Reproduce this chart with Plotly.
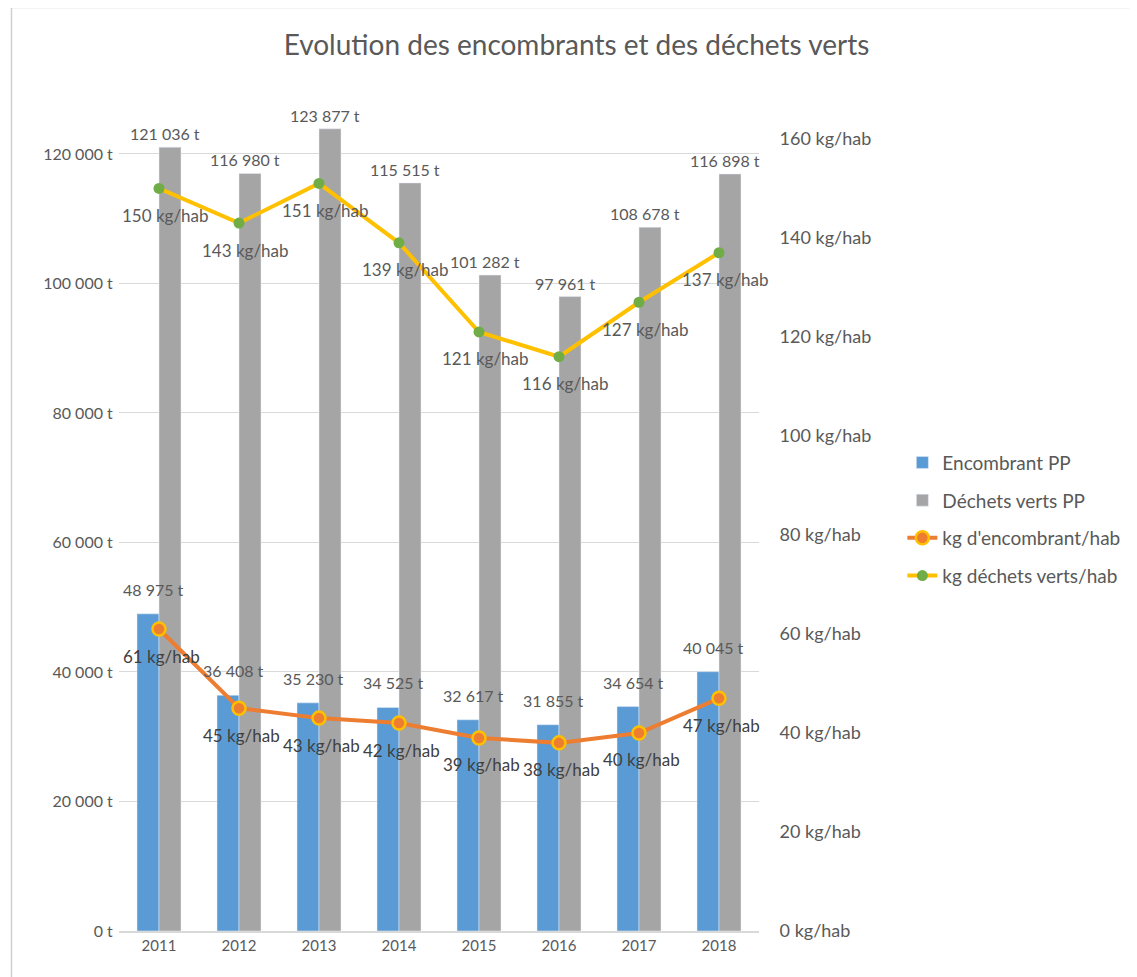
import plotly.graph_objects as go

years = ["2011", "2012", "2013", "2014", "2015", "2016", "2017", "2018"]
encombrant_t = [48975, 36408, 35230, 34525, 32617, 31855, 34654, 40045]
dechets_verts_t = [121036, 116980, 123877, 115515, 101282, 97961, 108678, 116898]
encombrant_kg = [61, 45, 43, 42, 39, 38, 40, 47]
dechets_verts_kg = [150, 143, 151, 139, 121, 116, 127, 137]

left_ticks = [0, 20000, 40000, 60000, 80000, 100000, 120000]
right_ticks = [0, 20, 40, 60, 80, 100, 120, 140, 160]

FONT = "Lato, 'Open Sans', sans-serif"
GREY_TXT = "#595959"


def tonnes(v):
    return f"{v:,}".replace(",", " ") + " t"


def kg(v):
    return f"{v} kg/hab"


fig = go.Figure()

fig.add_trace(go.Bar(
    x=years, y=encombrant_t, name="Encombrant PP", marker_color="#5B9BD5",
    legendgroup="a",
))
fig.add_trace(go.Bar(
    x=years, y=dechets_verts_t, name="Déchets verts PP", marker_color="#A5A5A5",
    legendgroup="b",
))
fig.add_trace(go.Scatter(
    x=years, y=encombrant_kg, name="kg d'encombrant/hab", yaxis="y2",
    mode="lines+markers", line=dict(color="#ED7D31", width=4),
    marker=dict(size=13, color="#ED7D31", line=dict(color="#FFC000", width=2.5)),
    legendgroup="c",
))
fig.add_trace(go.Scatter(
    x=years, y=dechets_verts_kg, name="kg déchets verts/hab", yaxis="y2",
    mode="lines+markers", line=dict(color="#FFC000", width=4),
    marker=dict(size=11, color="#70AD47"),
    legendgroup="d",
))

# data labels as annotations (x given as category index) so they sit on top of every mark
for i, v in enumerate(encombrant_t):
    fig.add_annotation(x=i, y=v, text=tonnes(v), showarrow=False, xshift=-6,
                       yanchor="bottom", yshift=13,
                       font=dict(color=GREY_TXT, size=16))
for i, v in enumerate(dechets_verts_t):
    fig.add_annotation(x=i, y=v, text=tonnes(v), showarrow=False, xshift=6,
                       yanchor="bottom", yshift=2,
                       font=dict(color=GREY_TXT, size=16))
for i, v in enumerate(encombrant_kg):
    fig.add_annotation(x=i, y=v, yref="y2", text=kg(v), showarrow=False, xshift=2,
                       yanchor="middle", yshift=-27,
                       font=dict(color="#404040", size=17))
for i, v in enumerate(dechets_verts_kg):
    fig.add_annotation(x=i, y=v, yref="y2", text=kg(v), showarrow=False, xshift=6,
                       yanchor="middle", yshift=-27,
                       font=dict(color=GREY_TXT, size=17))

fig.update_layout(
    width=1137, height=977,
    paper_bgcolor="white", plot_bgcolor="white",
    font=dict(family=FONT, color=GREY_TXT, size=16),
    title=dict(text="Evolution des encombrants et des déchets verts",
               x=0.5, xanchor="center", y=0.962, yanchor="middle",
               font=dict(size=28, color=GREY_TXT)),
    margin=dict(l=111, r=386, t=120, b=54),
    barmode="group", bargap=0.45, bargroupgap=0,
    xaxis=dict(type="category", range=[-0.5, len(years) - 0.5],
               showline=True, linecolor="#D9D9D9", linewidth=1.5,
               ticks="", tickfont=dict(size=15, color=GREY_TXT)),
    yaxis=dict(range=[0, 124000], tickvals=left_ticks,
               ticktext=[tonnes(v) for v in left_ticks],
               tickfont=dict(size=16, color=GREY_TXT),
               gridcolor="#D9D9D9", zeroline=False,
               ticks="outside", ticklen=2, tickcolor="white"),
    yaxis2=dict(range=[0, 162.2], overlaying="y", side="right",
                tickvals=right_ticks, ticktext=[kg(v) for v in right_ticks],
                tickfont=dict(size=18, color=GREY_TXT),
                showgrid=False, zeroline=False,
                ticks="outside", ticklen=16, tickcolor="white"),
    legend=dict(x=1.224, y=0.607, xanchor="left", yanchor="top",
                font=dict(size=19, color=GREY_TXT), tracegroupgap=10,
                bgcolor="rgba(0,0,0,0)"),
    showlegend=True,
)

fig.add_shape(type="rect", xref="paper", yref="paper",
              x0=-0.168, x1=1.588, y0=-0.062, y1=1.150,
              line=dict(color="#D0D0D0", width=1.5))

fig.write_html("out.html")
